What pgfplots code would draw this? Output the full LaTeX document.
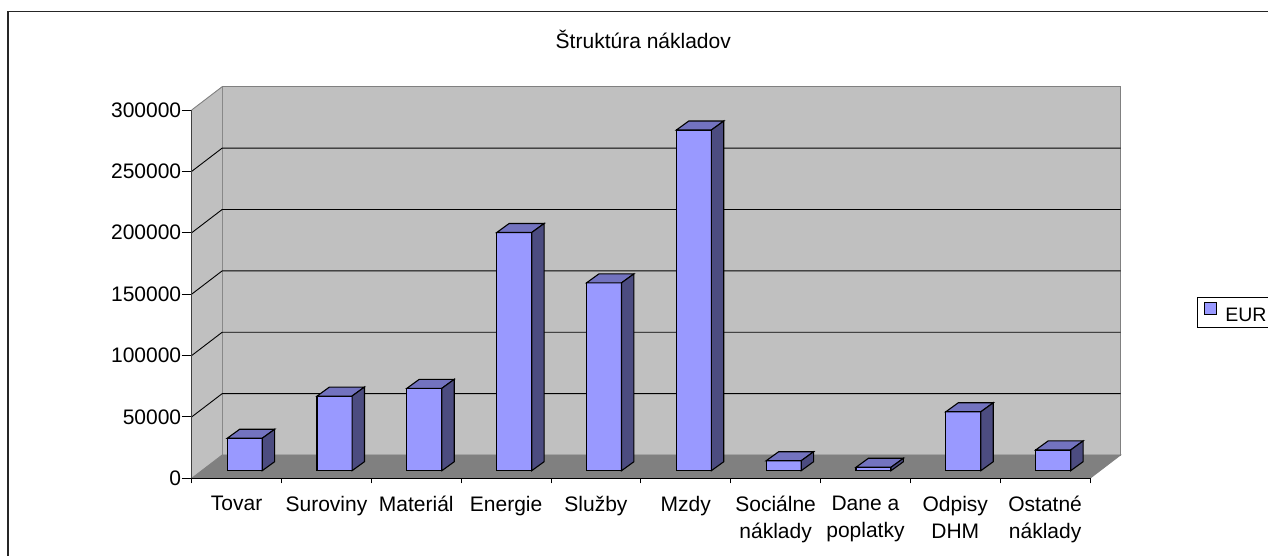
\documentclass[border=0pt]{standalone}
\usepackage{pgfplots}
\pgfplotsset{compat=1.18}
\usepackage{pgfplotstable}
\usepackage{fontspec}
\setmainfont{Liberation Sans}
\definecolor{barfront}{HTML}{9999FF}
\definecolor{bartop}{HTML}{7373BF}
\definecolor{barside}{HTML}{4C4C80}
\definecolor{wallgray}{HTML}{C0C0C0}
\definecolor{floorgray}{HTML}{808080}
\definecolor{edgegray}{HTML}{808080}

\pgfplotstableread{
x v
0 26400
1 60800
2 67100
3 194000
4 153000
5 277500
6 8100
7 2800
8 48000
9 16900
}\costs

\newcommand{\fnt}{\fontsize{21}{27}\selectfont}

% top and side faces of a bar; height from the point meta (0..300000 -> 0..1000)
\pgfdeclareplotmark{cube3d}{%
  \edef\barh{\fpeval{\pgfplotspointmetatransformed*0.3683}}%
  \pgfsetstrokecolor{black}%
  \pgfsetfillcolor{bartop}%
  \pgfpathmoveto{\pgfqpoint{-17.5pt}{0pt}}%
  \pgfpathlineto{\pgfqpoint{17.5pt}{0pt}}%
  \pgfpathlineto{\pgfqpoint{29.9pt}{9pt}}%
  \pgfpathlineto{\pgfqpoint{-5.1pt}{9pt}}%
  \pgfpathclose
  \pgfusepath{fill,stroke}%
  \pgfsetfillcolor{barside}%
  \pgfpathmoveto{\pgfqpoint{17.5pt}{0pt}}%
  \pgfpathlineto{\pgfqpoint{29.9pt}{9pt}}%
  \pgfpathlineto{\pgfpoint{29.9pt}{9pt-\barh pt}}%
  \pgfpathlineto{\pgfpoint{17.5pt}{-\barh pt}}%
  \pgfpathclose
  \pgfusepath{fill,stroke}%
}

\begin{document}
\begin{tikzpicture}
\useasboundingbox (0,0) rectangle (1268pt,556pt);
\draw[line width=1.2pt, black!85] (8pt,-20pt) -- (8pt,544.3pt) -- (1300pt,544.3pt);
\begin{axis}[
  at={(191.7pt,77.7pt)}, anchor=south west,
  scale only axis, width=898.3pt, height=368.3pt,
  xmin=-0.5, xmax=9.5, ymin=0, ymax=300000,
  axis x line*=bottom, axis y line*=left,
  x axis line style={black, line width=1pt},
  y axis line style={black!75, line width=1pt},
  axis on top,
  clip=false,
  xtick={0,...,9},
  xticklabels={Tovar,Suroviny,Materiál,Energie,Služby,Mzdy,{Sociálne\\náklady},{Dane a\\poplatky},{Odpisy\\DHM},{Ostatné\\náklady}},
  minor xtick={-0.5,0.5,...,9.5},
  major x tick style={draw=none},
  minor tick length=5pt,
  major tick length=10pt,
  tick align=outside,
  tick style={black, line width=0.9pt},
  ytick={0,50000,100000,150000,200000,250000,300000},
  scaled y ticks=false,
  yticklabel style={/pgf/number format/fixed, /pgf/number format/1000 sep={}, xshift=3pt},
  /pgf/number format/assume math mode=true,
  tick label style={font=\fnt},
  xticklabel style={align=center, yshift=-4pt},
  title={Štruktúra nákladov},
  title style={at={(0.5027,1.152)}, anchor=base, font=\fnt},
  legend style={at={(1.1191,0.4502)}, anchor=west, draw=black, line width=0.8pt,
    font=\fontsize{19.5}{21}\selectfont, inner xsep=7pt, inner ysep=4.5pt, nodes={inner sep=0pt}},
  legend image code/.code={\draw[fill=barfront,draw=black,line width=0.8pt] (0pt,-6pt) rectangle (12pt,6pt); \path (20pt,0pt);},
]
% back wall
\fill[wallgray, draw=edgegray, line width=0.9pt, shift={(30.5pt,23.3pt)}] (-0.5,0) rectangle (9.5,300000);
% side wall
\fill[wallgray] (-0.5,0) -- (-0.5,300000) -- ([shift={(30.5pt,23.3pt)}]-0.5,300000) -- ([shift={(30.5pt,23.3pt)}]-0.5,0) -- cycle;
\draw[edgegray, line width=0.9pt] (-0.5,300000) -- ([shift={(30.5pt,23.3pt)}]-0.5,300000);
% floor
\fill[floorgray, draw=edgegray, line width=0.9pt] (-0.5,0) -- (9.5,0) -- ([shift={(30.5pt,23.3pt)}]9.5,0) -- ([shift={(30.5pt,23.3pt)}]-0.5,0) -- cycle;
% grid lines
\pgfplotsinvokeforeach{50000,100000,150000,200000,250000}{
  \draw[black, line width=0.9pt] (-0.5,#1) -- ([shift={(30.5pt,23.3pt)}]-0.5,#1) -- ([shift={(30.5pt,23.3pt)}]9.5,#1);
}
\addplot[ybar, bar width=35pt, fill=barfront, draw=black, line width=1.1pt, xshift=8.1pt, yshift=7.6pt] table[x=x,y=v]{\costs};
\addlegendentry{EUR}
\addplot[scatter, only marks, mark=cube3d, line width=1.1pt, xshift=8.1pt, yshift=7.6pt, forget plot,
  point meta=\thisrow{v}, point meta min=0, point meta max=300000] table[x=x,y=v]{\costs};
\end{axis}
\end{tikzpicture}
\end{document}
